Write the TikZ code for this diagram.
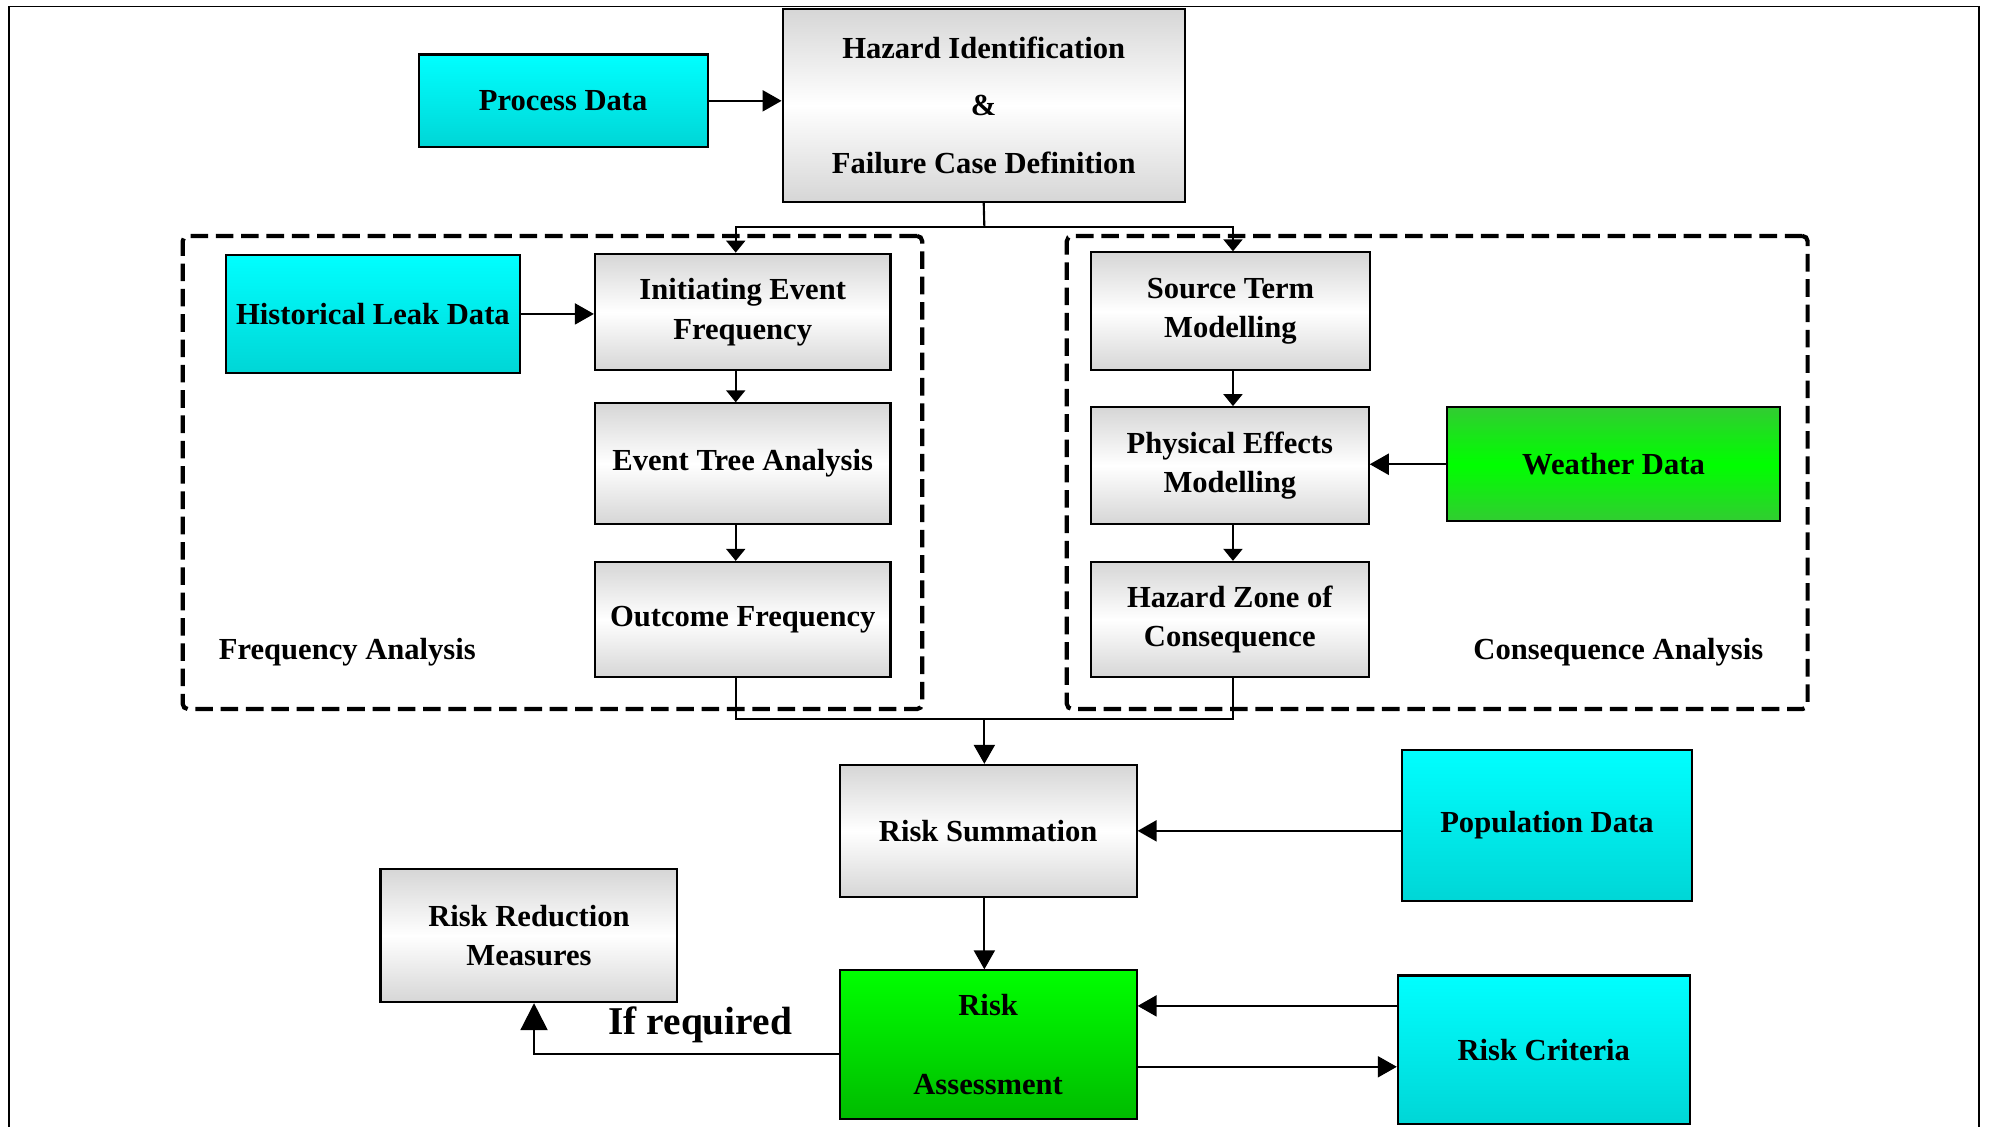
\documentclass[tikz,border=0pt]{standalone}
\usepackage{fontspec}
\setmainfont{Liberation Serif}
\usetikzlibrary{arrows.meta,fit,calc}

\definecolor{cyanTop}{RGB}{0,255,255}
\definecolor{cyanBot}{RGB}{0,214,214}
\definecolor{grayEdge}{RGB}{214,214,214}
\definecolor{limeEdge}{RGB}{50,204,50}
\definecolor{limeMid}{RGB}{0,255,0}
\definecolor{assessTop}{RGB}{0,255,0}
\definecolor{assessBot}{RGB}{0,188,0}

\newcommand\boxfont{\bfseries\fontsize{8.7}{11.2}\selectfont}
% box given by its corners: style, name, x1, y1, x2, y2, text
\newcommand\placebox[7]{%
  \node[#1, minimum width={(#5-#3)*0.012685cm}, minimum height={(#6-#4)*0.012685cm}]
    (#2) at ({(#3+#5)/2},{(#4+#6)/2}) {#7};}

\begin{document}
\begin{tikzpicture}[
  x=0.012685cm, y=-0.012685cm,
  box/.style={draw=black, line width=0.6pt, inner sep=0pt, align=center, font=\boxfont},
  grayBox/.style={box, top color=grayEdge, bottom color=grayEdge, middle color=white},
  cyanBox/.style={box, top color=cyanTop, bottom color=cyanBot},
  weatherBox/.style={box, top color=limeEdge, bottom color=limeEdge, middle color=limeMid},
  assessBox/.style={box, top color=assessTop, bottom color=assessBot},
  groupFrame/.style={draw=black, line width=1.2pt, dash pattern=on 5pt off 2.2pt,
                     rounded corners=1.5pt, inner sep=0pt},
  groupLabel/.style={font=\boxfont, anchor=west, inner sep=0pt},
  wire/.style={draw=black, line width=0.6pt},
  tipS/.style={wire, -{Triangle[length=0.12cm,width=0.19cm]}},
  tipM/.style={wire, -{Triangle[length=0.19cm,width=0.21cm]}},
  tipXL/.style={wire, -{Triangle[length=0.27cm,width=0.27cm]}}
]
\useasboundingbox (0,0) rectangle (1568,888);
\clip (0,0) rectangle (1568,888);

% page frame, open at the bottom
\draw[line width=0.45pt] (7,900) -- (7,5) -- (1560,5) -- (1560,900);

% analysis groups
\node[groupFrame, fit={(144,186) (727,559)}] (freqgrp) {};
\node[groupFrame, fit={(841,186) (1425,559)}] (consgrp) {};
\node[groupLabel] (freqlbl) at (172,514) {Frequency Analysis};
\node[groupLabel] (conslbl) at (1161,514) {Consequence Analysis};

% top of the chart
\placebox{cyanBox}{pd}{330}{43}{558}{116}{Process Data}
\placebox{grayBox}{hz}{617}{7}{934}{159}{Hazard Identification\\[5.2pt]\&\\[5.2pt]Failure Case Definition}

% frequency side
\placebox{cyanBox}{hist}{178}{201}{410}{294}{Historical Leak Data}
\placebox{grayBox}{ief}{469}{200}{702}{292}{Initiating Event\\Frequency}
\placebox{grayBox}{eta}{469}{318}{702}{413}{Event Tree Analysis}
\placebox{grayBox}{of}{469}{443}{702}{534}{Outcome Frequency}

% consequence side
\placebox{grayBox}{stm}{860}{199}{1080}{292}{Source Term\\Modelling}
\placebox{grayBox}{pem}{860}{321}{1079}{413}{Physical Effects\\Modelling}
\placebox{grayBox}{hzc}{860}{443}{1079}{534}{Hazard Zone of\\Consequence}
\placebox{weatherBox}{wd}{1141}{321}{1403}{411}{Weather Data}

% risk part
\placebox{grayBox}{rs}{662}{603}{896}{707}{Risk Summation}
\placebox{cyanBox}{pop}{1105}{591}{1334}{710}{Population Data}
\placebox{assessBox}{ra}{662}{765}{896}{882}{Risk\\[11.2pt]Assessment}
\placebox{cyanBox}{rc}{1102}{769}{1332}{886}{Risk Criteria}
\placebox{grayBox}{rrm}{300}{685}{534}{790}{Risk Reduction\\Measures}
\node[font=\bfseries\fontsize{11.2}{13}\selectfont, inner sep=0pt] (ifreq) at (552,808) {If required};

% routing coordinates
\coordinate (colL) at (580,0);
\coordinate (colR) at (972,0);
\coordinate (split) at (776,179);
\coordinate (merge) at (776,567);
\coordinate (yCritIn) at (0,793);
\coordinate (yCritOut) at (0,841);
\coordinate (yReduce) at (0,831);
\coordinate (colRR) at (421,0);

% connectors
\draw[tipM] (pd.east) -- (pd.east -| hz.west);
\draw[wire] (hz.south) -- (split);
\draw[tipS] (split) -| (colL |- ief.north);
\draw[tipS] (split) -| (colR |- stm.north);

\draw[tipM] (hist.east) -- (hist.east -| ief.west);
\draw[tipS] (colL |- ief.south) -- (colL |- eta.north);
\draw[tipS] (colL |- eta.south) -- (colL |- of.north);

\draw[tipS] (colR |- stm.south) -- (colR |- pem.north);
\draw[tipS] (colR |- pem.south) -- (colR |- hzc.north);
\draw[tipM] (wd.west) -- (wd.west -| pem.east);

\draw[wire] (colL |- of.south) -- (colL |- merge) -- (colR |- merge) -- (colR |- hzc.south);
\draw[tipM] (merge) -- (merge |- rs.north);

\draw[tipM] (pop.west |- rs.east) -- (rs.east);
\draw[tipM] (merge |- rs.south) -- (merge |- ra.north);
\draw[tipM] (rc.west |- yCritIn) -- (ra.east |- yCritIn);
\draw[tipM] (ra.east |- yCritOut) -- (rc.west |- yCritOut);
\draw[tipXL] (ra.west |- yReduce) -| (colRR |- rrm.south);

\end{tikzpicture}
\end{document}
